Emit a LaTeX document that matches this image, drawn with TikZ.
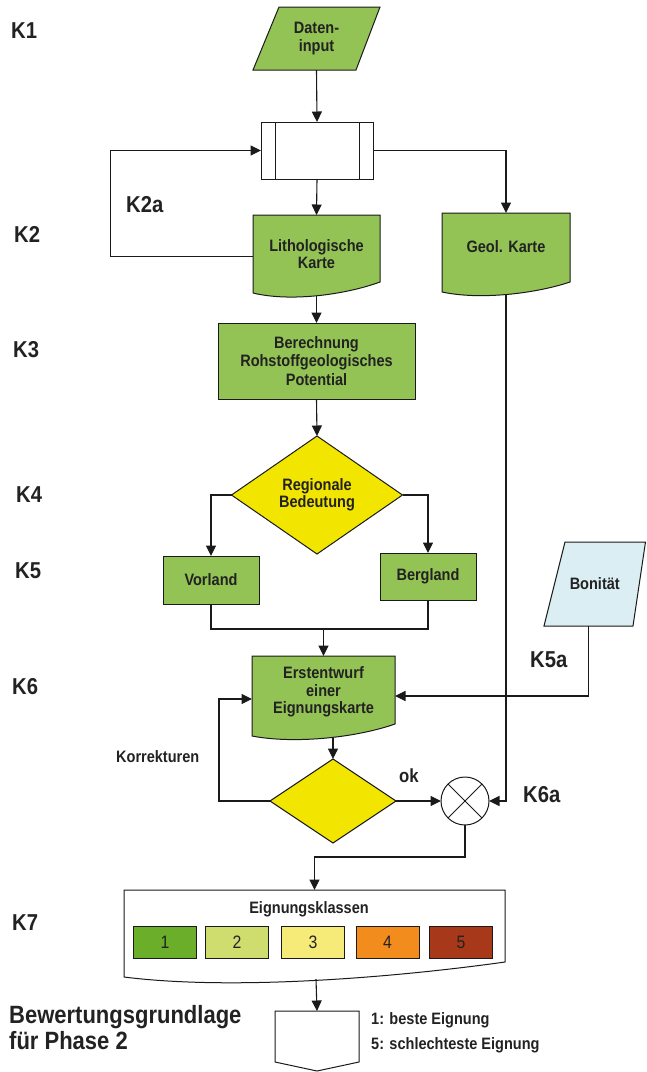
\documentclass[tikz,border=0pt]{standalone}
\usepackage{fontspec}
\setmainfont{Liberation Sans}[FakeStretch=0.88]
\usetikzlibrary{arrows.meta,calc,backgrounds}
\definecolor{grn}{HTML}{93C355}
\definecolor{ylw}{HTML}{F2E600}
\definecolor{lblue}{HTML}{DAEEF3}
\definecolor{txt}{HTML}{222222}
\definecolor{lin}{HTML}{1A1A1A}
\definecolor{kA}{HTML}{6AAE2A}
\definecolor{kB}{HTML}{CFDD6F}
\definecolor{kC}{HTML}{F6EB79}
\definecolor{kD}{HTML}{F28C1C}
\definecolor{kE}{HTML}{A8381A}
\newcommand\nf{\bfseries\fontsize{16.5}{17.5}\selectfont}
\newcommand\kf{\bfseries\fontsize{23}{25}\selectfont}
\newcommand\docshape[5]{%
  \filldraw[#5] (#1.north west) -- (#1.north east) -- ([yshift=#2pt]#1.south east)
  .. controls ($(#1.south west)!0.72!(#1.south east)+(0pt,-#4pt)$)
  and ($(#1.south west)!0.29!(#1.south east)+(0pt,-#3pt)$) .. (#1.south west) -- cycle;}
\newcommand\paral[4]{%
  \filldraw[#4] ([xshift=#2pt]#1.north west) -- (#1.north east) -- ([xshift=-#3pt]#1.south east) -- (#1.south west) -- cycle;}
\tikzset{
  every node/.style={font=\nf, text=txt, align=center},
  shp/.style={inner sep=0pt, outer sep=0pt, draw=none},
  gsh/.style={fill=grn, draw=lin, line width=1pt, line join=miter},
  ysh/.style={fill=ylw, draw=lin, line width=1pt},
  bsh/.style={fill=lblue, draw=lin, line width=1pt},
  wsh/.style={fill=white, draw=lin, line width=1pt},
  conn/.style={draw=lin, line width=1.1pt},
  arr/.style={conn, -{Triangle[length=10.5pt,width=10pt]}},
  klab/.style={font=\kf, anchor=west, inner sep=0pt, align=left},
  plain/.style={anchor=west, inner sep=0pt, align=left},
  cbox/.style={draw=lin, line width=0.9pt, minimum width=63pt, minimum height=32pt, inner sep=0pt, outer sep=0pt, font=\fontsize{18}{20}\selectfont}
}
\begin{document}
\begin{tikzpicture}[x=1pt,y=-1pt]
\useasboundingbox (0,0) rectangle (646,1072);
% ---------- nodes ----------
\node[shp, minimum width=127pt, minimum height=63pt, font=\bfseries\fontsize{16.5}{18}\selectfont] (daten) at (316.5,38.5) {Daten-\\input};
\node[shp, minimum width=112pt, minimum height=57pt] (proc) at (317,150.5) {};
\node[shp, minimum width=127pt, minimum height=78pt, font=\bfseries\fontsize{16.5}{16.5}\selectfont] (lith) at (316.5,254) {Lithologische\\Karte};
\node[shp, minimum width=128pt, minimum height=79pt, label={[yshift=6pt]center:Geol. Karte}] (geol) at (506,252.5) {};
\node[shp, minimum width=197pt, minimum height=76pt, font=\bfseries\fontsize{16.5}{18.5}\selectfont] (ber) at (316.5,361) {Berechnung\\Rohstoffgeologisches\\Potential};
\node[shp, minimum width=171pt, minimum height=118pt] (reg) at (317,495) {Regionale\\Bedeutung};
\node[shp, minimum width=96pt, minimum height=48pt] (vor) at (211,580) {Vorland};
\node[shp, minimum width=96pt, minimum height=47pt] (berg) at (428,576.5) {Bergland};
\node[shp, minimum width=143pt, minimum height=80pt, label={[yshift=4pt]center:{Erstentwurf\\einer\\Eignungskarte}}] (erst) at (323.5,696) {};
\node[shp, minimum width=101.5pt, minimum height=84pt] (bon) at (594.75,584) {Bonität};
\node[shp, minimum width=126pt, minimum height=84pt] (chk) at (333,801) {};
\node[circle, wsh, minimum size=48pt, inner sep=0pt, outer sep=0pt] (sum) at (465,801) {};
\node[shp, minimum width=381pt, minimum height=87pt] (eig) at (314.5,933.5) {};
\node (eigt) at (309,909) {Eignungsklassen};
\node[cbox, fill=kA] (c1) at (165,942) {1};
\node[cbox, fill=kB] (c2) at (237,942) {2};
\node[cbox, fill=kC] (c3) at (313,942) {3};
\node[cbox, fill=kD] (c4) at (387.5,942) {4};
\node[cbox, fill=kE] (c5) at (461,942) {5};
\node[shp, minimum width=84pt, minimum height=60pt] (out) at (317,1041) {};
% ---------- labels ----------
\node[klab] (k1) at (11,30.5) {K1};
\node[klab] (k2a) at (126,204.5) {K2a};
\node[klab] (k2) at (14,234) {K2};
\node[klab] (k3) at (13,349.5) {K3};
\node[klab] (k4) at (16,495) {K4};
\node[klab] (k5) at (15,570.5) {K5};
\node[klab] (k5a) at (530,660) {K5a};
\node[klab] (k6) at (12,686.5) {K6};
\node[klab] (k6a) at (523,795) {K6a};
\node[klab] (k7) at (12,923) {K7};
\node[plain] (korr) at (116,757) {Korrekturen};
\node[plain, font=\bfseries\fontsize{19}{21}\selectfont] (ok) at (399,776) {ok};
\node[plain, font=\bfseries\fontsize{25}{26}\selectfont] (bew) at (9,1028) {Bewertungsgrundlage\\für Phase 2};
\node[plain, font=\bfseries\fontsize{16.5}{25}\selectfont] (leg) at (371,1033) {1: beste Eignung\\5: schlechteste Eignung};
% ---------- shapes ----------
\begin{scope}[on background layer]
\fill[white] (0,0) rectangle (646,1072);
\paral{daten}{26}{24}{gsh}
\filldraw[wsh] (proc.north west) rectangle (proc.south east);
\draw[wsh] ([xshift=14pt]proc.north west) -- ([xshift=14pt]proc.south west);
\draw[wsh] ([xshift=-14pt]proc.north east) -- ([xshift=-14pt]proc.south east);
\docshape{lith}{11}{9}{2}{gsh}
\docshape{geol}{10}{8}{2}{gsh}
\filldraw[gsh] (ber.north west) rectangle (ber.south east);
\filldraw[ysh] (reg.north) -- (reg.east) -- (reg.south) -- (reg.west) -- cycle;
\filldraw[gsh] (vor.north west) rectangle (vor.south east);
\filldraw[gsh] (berg.north west) rectangle (berg.south east);
\docshape{erst}{12}{8}{2}{gsh}
\paral{bon}{21}{12.5}{bsh}
\filldraw[ysh] (chk.north) -- (chk.east) -- (chk.south) -- (chk.west) -- cycle;
\docshape{eig}{15}{14}{0}{wsh}
\filldraw[wsh] (out.north west) -- (out.north east) -- ([yshift=9pt]out.south east) -- (out.south) -- ([yshift=9pt]out.south west) -- cycle;
\end{scope}
\draw[conn, line width=1pt] (sum.north west) -- (sum.south east);
\draw[conn, line width=1pt] (sum.north east) -- (sum.south west);
% ---------- connectors ----------
\coordinate (lithl) at (253,256.5);
\coordinate (loopc) at (110.5,256.5);
\coordinate (lithb) at (316.5,296);
\coordinate (geolb) at (506,295);
\coordinate (join) at (323.5,629);
\coordinate (erstb) at (333,736.5);
\coordinate (erstl) at (252,699);
\coordinate (kor) at (219,801);
\coordinate (bonb) at (588.5,626);
\coordinate (eigb) at (316,979);
\draw[arr] (daten.south) -- (proc.north);
\draw[arr] (lithl) -- (loopc) |- (proc.west);
\draw[arr] (proc.east) -| (geol.north);
\draw[arr] (proc.south) -- (lith.north);
\draw[arr] (lithb) -- (ber.north);
\draw[arr] (ber.south) -- (reg.north);
\draw[arr] (reg.west) -| (vor.north);
\draw[arr] (reg.east) -| (berg.north);
\draw[conn] (vor.south) |- (join) -| (berg.south);
\draw[arr] (join) -- (erst.north);
\draw[arr] (bonb) |- (erst.east);
\draw[arr] (erstb) -- (chk.north);
\draw[arr] (chk.west) -- (kor) |- (erstl);
\draw[arr] (chk.east) -- (sum.west);
\draw[arr] (geolb) |- (sum.east);
\draw[arr] (sum.south) -- ++(0,32) -| (eig.north);
\draw[arr] (eigb) -- (out.north);
\end{tikzpicture}
\end{document}
